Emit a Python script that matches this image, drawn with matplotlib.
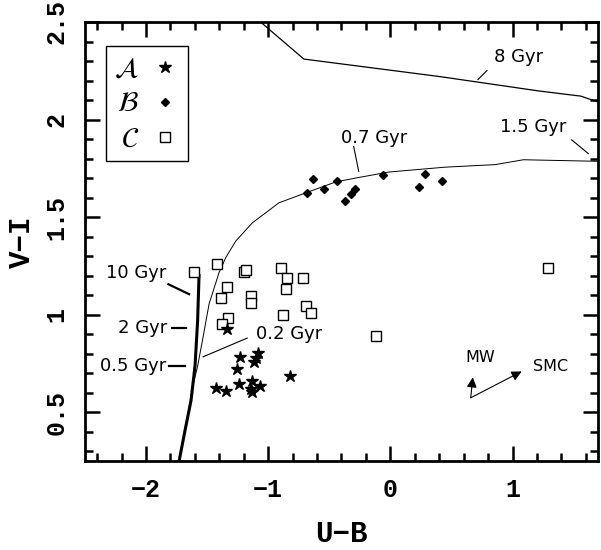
#!/usr/bin/env python3
"""
Two-colour diagram (U-B vs V-I) of star clusters with model tracks.
Groups A (stars), B (diamonds), C (open squares).
"""

import matplotlib
matplotlib.use('Agg')  # no display
import matplotlib.pyplot as plt
from matplotlib.lines import Line2D
from matplotlib.ticker import MultipleLocator, FuncFormatter

# --- cluster colours ---
group_a_ub = [-1.335, -1.231, -1.084, -1.100, -1.117, -1.258, -0.823, -1.430,
              -1.348, -1.239, -1.131, -1.144, -1.131, -1.070]
group_a_vi = [0.925, 0.781, 0.801, 0.780, 0.755, 0.722, 0.684, 0.625,
              0.611, 0.645, 0.662, 0.620, 0.602, 0.636]

group_b_ub = [-0.632, -0.681, -0.545, -0.436, -0.368, -0.319, -0.286,
              -0.063, 0.231, 0.280, 0.422]
group_b_vi = [1.697, 1.624, 1.646, 1.683, 1.585, 1.620, 1.644,
              1.714, 1.654, 1.723, 1.683]

group_c_ub = [-1.607, -1.422, -1.199, -1.180, -1.340, -1.389, -1.139, -1.139,
              -0.899, -0.845, -0.714, -0.853, -0.877, -0.694, -0.649, -1.329,
              -1.376, -0.117, 1.293]
group_c_vi = [1.219, 1.258, 1.219, 1.227, 1.142, 1.084, 1.096, 1.062,
              1.241, 1.190, 1.190, 1.133, 0.999, 1.045, 1.008, 0.985,
              0.951, 0.892, 1.241]

# --- model tracks ---
track_8gyr_ub = [-1.10, -0.708, 0.408, 1.21, 1.56, 1.70]
track_8gyr_vi = [2.52, 2.31, 2.22, 2.147, 2.12, 2.09]

track_young_ub = [-1.681, -1.634, -1.607, -1.580, -1.539, -1.484, -1.403, -1.348,
                  -1.266, -1.131, -0.913, -0.694, -0.449, -0.286, -0.014, 0.449,
                  0.858, 1.089, 1.70]
track_young_vi = [0.407, 0.577, 0.662, 0.730, 0.866, 1.055, 1.215, 1.292,
                  1.377, 1.470, 1.573, 1.624, 1.680, 1.700, 1.731, 1.756,
                  1.769, 1.794, 1.786]

track_old_ub = [-1.566, -1.578, -1.599, -1.632, -1.681, -1.745]
track_old_vi = [1.208, 0.968, 0.739, 0.560, 0.407, 0.20]

# age labels: text, text anchor, alignment, leader line (x0, y0, x1, y1)
age_labels = [
    ('8 Gyr', (0.848, 2.322), 'left', (0.717, 2.205, 0.791, 2.251)),
    ('1.5 Gyr', (0.899, 1.964), 'left', (1.484, 1.896, 1.620, 1.826)),
    ('0.7 Gyr', (-0.408, 1.908), 'left', (-0.300, 1.862, -0.259, 1.734)),
    ('10 Gyr', (-1.835, 1.212), 'right', (-1.817, 1.156, -1.648, 1.105)),
    ('2 Gyr', (-1.825, 0.931), 'right', (-1.784, 0.931, -1.670, 0.931)),
    ('0.5 Gyr', (-1.833, 0.739), 'right', (-1.811, 0.739, -1.681, 0.739)),
    ('0.2 Gyr', (-1.103, 0.900), 'left', (-1.172, 0.880, -1.533, 0.784)),
]

# reddening vectors
reddening_origin = (0.658, 0.574)
mw_tip = (0.675, 0.679)
smc_tip = (1.075, 0.709)

plt.rcParams['mathtext.fontset'] = 'stix'

fig = plt.figure(figsize=(6.01, 5.5), dpi=100)
ax = fig.add_axes([85 / 601, 89 / 550, 513 / 601, 439 / 550])

# tracks
ax.plot(track_8gyr_ub, track_8gyr_vi, color='k', lw=0.9)
ax.plot(track_young_ub, track_young_vi, color='k', lw=0.7)
ax.plot(track_old_ub, track_old_vi, color='k', lw=2.2, solid_capstyle='butt')

# clusters
ax.plot(group_c_ub, group_c_vi, ls='none', marker='s', ms=7, mfc='white',
        mec='k', mew=1.0)
ax.plot(group_b_ub, group_b_vi, ls='none', marker='D', ms=4, color='k')
ax.plot(group_a_ub, group_a_vi, ls='none', marker='*', ms=9, color='k')

# age labels with leader lines
for text, (tx, ty), ha, (x0, y0, x1, y1) in age_labels:
    ax.text(tx, ty, text, ha=ha, va='center', fontsize=13,
            family='DejaVu Sans')
    lw = 1.6 if ha == 'right' else 0.8
    ax.plot([x0, x1], [y0, y1], color='k', lw=lw)

# reddening arrows
for tip in (mw_tip, smc_tip):
    ax.annotate('', xy=tip, xytext=reddening_origin,
                arrowprops=dict(arrowstyle='-|>', color='k', lw=0.8,
                                mutation_scale=15, shrinkA=0, shrinkB=0))
ax.text(0.738, 0.781, 'MW', ha='center', va='center', fontsize=11.5)
ax.text(1.171, 0.735, 'SMC', ha='left', va='center', fontsize=11.5)

# legend
handles = [
    Line2D([], [], ls='none', marker='*', ms=9, color='k'),
    Line2D([], [], ls='none', marker='D', ms=4, color='k'),
    Line2D([], [], ls='none', marker='s', ms=7, mfc='white', mec='k', mew=1.0),
]
labels = [r'$\mathcal{A}$', r'$\mathcal{B}$', r'$\mathcal{C}$']
leg = ax.legend(handles, labels, loc='upper left',
                bbox_to_anchor=(0.041, 0.945), borderaxespad=0,
                markerfirst=False, fontsize=20, handlelength=1.0,
                handletextpad=0.45, labelspacing=0.25, borderpad=0.3,
                fancybox=False, framealpha=1, edgecolor='k')
leg.get_frame().set_linewidth(1.0)

# axes
ax.set_xlim(-2.5, 1.7)
ax.set_ylim(0.25, 2.5)
ax.xaxis.set_major_locator(MultipleLocator(1))
ax.xaxis.set_minor_locator(MultipleLocator(0.2))
ax.yaxis.set_major_locator(MultipleLocator(0.5))
ax.yaxis.set_minor_locator(MultipleLocator(0.1))
short_fmt = FuncFormatter(lambda v, pos: ('%g' % v).replace('-', '\u2212'))
ax.xaxis.set_major_formatter(short_fmt)
ax.yaxis.set_major_formatter(short_fmt)
ax.tick_params(which='both', direction='in', top=True, right=True, width=1.8)
ax.tick_params(which='major', length=11)
ax.tick_params(which='minor', length=6)
ax.tick_params(axis='x', pad=12)
ax.tick_params(axis='y', pad=12, labelrotation=90)
for spine in ax.spines.values():
    spine.set_linewidth(2.0)

for lab in ax.get_xticklabels() + ax.get_yticklabels():
    lab.set_fontfamily('Liberation Mono')
    lab.set_fontweight('bold')
    lab.set_fontsize(18)
for lab in ax.get_yticklabels():
    lab.set_va('center')

ax.set_xlabel('U\u2212B', fontsize=21, family='Liberation Mono',
              weight='bold', labelpad=13)
ax.set_ylabel('V\u2212I', fontsize=21, family='Liberation Mono',
              weight='bold', labelpad=6)

fig.savefig('out.png', dpi=100)
print("Saved: out.png")
